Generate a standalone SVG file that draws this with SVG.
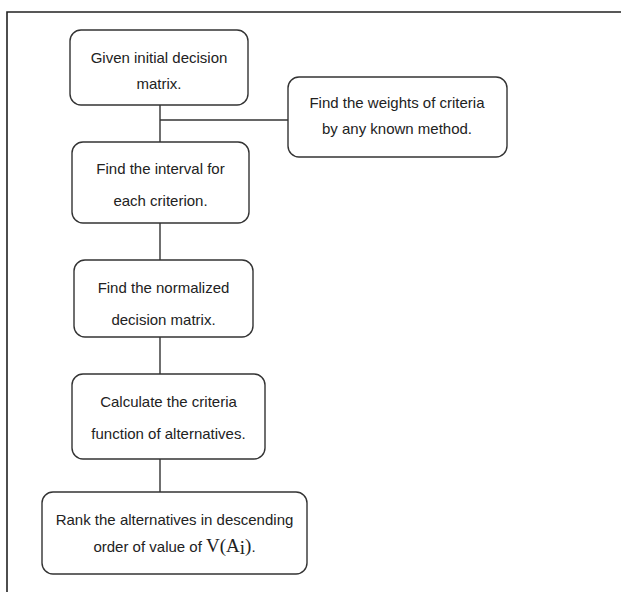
<svg xmlns="http://www.w3.org/2000/svg" width="621" height="592" viewBox="0 0 621 592">
<style>
.box{fill:#fff;stroke:#333;stroke-width:1.4}
.t{font-family:"Liberation Sans",Arial,sans-serif;font-size:15px;fill:#222;text-anchor:middle}
.m{font-family:"Liberation Serif","Times New Roman",serif;font-size:19px}
.c{stroke:#333;stroke-width:1.4;fill:none}
</style>
<rect x="0" y="0" width="621" height="592" fill="#fff"/>
<path d="M7,592 V12 H621" fill="none" stroke="#222" stroke-width="1.6"/>
<g id="connectors">
<line class="c" x1="160" y1="105" x2="160" y2="142"/>
<line class="c" x1="160" y1="120" x2="288" y2="120"/>
<line class="c" x1="160" y1="223" x2="160" y2="260"/>
<line class="c" x1="160" y1="337" x2="160" y2="374"/>
<line class="c" x1="160" y1="459" x2="160" y2="492"/>
</g>
<g id="n1">
<rect class="box" x="70" y="30" width="178" height="75" rx="11"/>
<text class="t" x="159" y="63">Given initial decision</text>
<text class="t" x="159" y="89">matrix.</text>
</g>
<g id="n2">
<rect class="box" x="288" y="77" width="219" height="80" rx="11"/>
<text class="t" x="397" y="108">Find the weights of criteria</text>
<text class="t" x="397" y="134">by any known method.</text>
</g>
<g id="n3">
<rect class="box" x="72" y="142" width="177" height="81" rx="11"/>
<text class="t" x="160.5" y="174">Find the interval for</text>
<text class="t" x="160.5" y="206">each criterion.</text>
</g>
<g id="n4">
<rect class="box" x="74" y="260" width="179" height="77" rx="11"/>
<text class="t" x="163.5" y="293">Find the normalized</text>
<text class="t" x="163.5" y="325">decision matrix.</text>
</g>
<g id="n5">
<rect class="box" x="72" y="374" width="193" height="85" rx="11"/>
<text class="t" x="168.5" y="407">Calculate the criteria</text>
<text class="t" x="168.5" y="439">function of alternatives.</text>
</g>
<g id="n6">
<rect class="box" x="42" y="492" width="265" height="82" rx="11"/>
<text class="t" x="174.5" y="525">Rank the alternatives in descending</text>
<text class="t" x="174.5" y="552">order of value of <tspan class="m">V(A</tspan><tspan class="m" font-size="12px" dy="2">i</tspan><tspan class="m" dy="-2">)</tspan>.</text>
</g>
</svg>
